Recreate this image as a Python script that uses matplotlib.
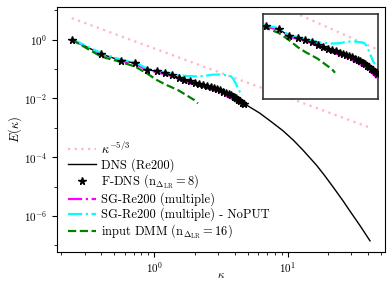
import numpy as np
import matplotlib
matplotlib.use("Agg")
import matplotlib.pyplot as plt
from matplotlib.ticker import FixedLocator, NullFormatter, LogFormatterSciNotation

plt.rcParams['font.family'] = 'serif'
plt.rcParams['font.serif'] = ['cmr10', 'DejaVu Serif']
plt.rcParams['mathtext.fontset'] = 'cm'
plt.rcParams['axes.formatter.use_mathtext'] = True
plt.rcParams['axes.unicode_minus'] = False

# ---- data ----
kappa = [0.24, 0.40, 0.56, 0.72, 0.88, 1.04, 1.20, 1.36, 1.52, 1.68, 1.84, 2.00,
         2.16, 2.32, 2.48, 2.64, 2.80, 2.96, 3.12, 3.28, 3.44, 3.60, 3.76, 3.92,
         4.08, 4.24, 4.40, 4.56, 4.72]
fdns_log = [0.00, -0.49, -0.71, -0.80, -1.02, -1.08, -1.14, -1.19, -1.30, -1.37,
            -1.42, -1.47, -1.50, -1.54, -1.57, -1.61, -1.65, -1.69, -1.73, -1.77,
            -1.81, -1.86, -1.90, -1.95, -1.99, -2.04, -2.09, -2.14, -2.20]
sg_log = [0.00, -0.50, -0.72, -0.82, -1.04, -1.11, -1.18, -1.24, -1.34, -1.42,
          -1.48, -1.53, -1.57, -1.61, -1.65, -1.69, -1.73, -1.78, -1.82, -1.86,
          -1.91, -1.96, -2.00, -2.05, -2.10, -2.16, -2.21, -2.27, -2.34]
kappa_noput = kappa[:28]
noput_log = [0.02, -0.46, -0.68, -0.77, -0.99, -1.05, -1.11, -1.16, -1.21, -1.23,
             -1.24, -1.25, -1.25, -1.24, -1.22, -1.20, -1.19, -1.19, -1.19, -1.20,
             -1.21, -1.22, -1.25, -1.35, -1.50, -1.65, -1.80, -1.90]
kappa_dmm = [0.24, 0.40, 0.56, 0.72, 0.88, 1.04, 1.20, 1.36, 1.52, 1.68, 1.84,
             2.00, 2.12]
dmm_log = [0.00, -0.58, -0.76, -0.92, -1.15, -1.37, -1.52, -1.63, -1.73, -1.85,
           -1.96, -2.06, -2.17]
kappa_dns = [0.24, 0.40, 0.56, 0.72, 0.88, 1.04, 1.20, 1.36, 1.52, 1.68, 1.84,
             2.00, 2.50, 3.00, 3.50, 4.00, 4.72, 6.16, 7.50, 9.20, 11.0, 13.0,
             16.4, 19.0, 21.9, 25.9, 29.2, 34.8, 41.4]
dns_log = [0.00, -0.49, -0.71, -0.80, -1.02, -1.08, -1.14, -1.19, -1.30, -1.37,
           -1.42, -1.47, -1.58, -1.69, -1.81, -1.97, -2.18, -2.50, -2.79, -3.10,
           -3.42, -3.76, -4.27, -4.64, -5.02, -5.48, -5.83, -6.33, -6.85]
k53_coef = 0.5
k53_kappa = [0.24, 41.4]
y_major = [1e-6, 1e-4, 1e-2, 1e0]
y_minor = [1e-7, 1e-5, 1e-3, 1e-1, 1e1]

labels = [r'$\kappa^{-5/3}$', 'DNS (Re200)', r'F-DNS (n$_{\Delta_{\rm LR}}=8$)',
          'SG-Re200 (multiple)', 'SG-Re200 (multiple) - NoPUT',
          r'input DMM (n$_{\Delta_{\rm LR}}=16$)']


def draw(ax, with_labels=True):
    lab = labels if with_labels else [None] * 6
    kk = np.array(k53_kappa)
    ax.plot(kk, k53_coef * kk ** (-5.0 / 3.0), color='#ffb6c1', ls=(0, (1, 2)),
            lw=1.6, label=lab[0], zorder=1)
    ax.plot(kappa_dns, 10.0 ** np.array(dns_log), color='black', lw=1.0,
            label=lab[1], zorder=2)
    ax.plot(kappa, 10.0 ** np.array(fdns_log), ls='none', marker='*', color='black',
            ms=5.5, label=lab[2], zorder=5)
    ax.plot(kappa, 10.0 ** np.array(sg_log), color='magenta', ls='-.', lw=1.6,
            label=lab[3], zorder=3)
    ax.plot(kappa_noput, 10.0 ** np.array(noput_log), color='cyan', ls='-.', lw=1.6,
            label=lab[4], zorder=4)
    ax.plot(kappa_dmm, 10.0 ** np.array(dmm_log), color='green', ls='--', lw=1.6,
            label=lab[5], zorder=4)


fig = plt.figure(figsize=(3.92, 2.93), dpi=100)
ax = fig.add_axes([0.145, 0.140, 0.837, 0.836])
ax.set_xscale('log')
ax.set_yscale('log')
draw(ax)
ax.yaxis.set_major_locator(FixedLocator(y_major))
ax.yaxis.set_major_formatter(LogFormatterSciNotation())
ax.yaxis.set_minor_locator(FixedLocator(y_minor))
ax.yaxis.set_minor_formatter(NullFormatter())
ax.set_xlabel(r'$\kappa$', fontsize=8, labelpad=-3)
ax.set_ylabel(r'$E(\kappa)$', fontsize=9, labelpad=0)
ax.tick_params(labelsize=8)
ax.tick_params(axis='x', pad=2.5)
ax.legend(loc='lower left', frameon=False, fontsize=9, handlelength=2.2,
          borderaxespad=0.5, labelspacing=0.1, handletextpad=0.4)

ins = ax.inset_axes([0.628, 0.624, 0.351, 0.347])
ins.set_xscale('log')
ins.set_yscale('log')
draw(ins, with_labels=False)
ins.set_xlim(0.53, 4.85)
ins.set_ylim(1e-3, 0.47)
ins.xaxis.set_major_locator(FixedLocator([]))
ins.xaxis.set_minor_locator(FixedLocator([]))
ins.yaxis.set_major_locator(FixedLocator([]))
ins.yaxis.set_minor_locator(FixedLocator([]))
for s in ins.spines.values():
    s.set_color('#333333')
    s.set_linewidth(1.2)

fig.savefig('out.png', dpi=100)
